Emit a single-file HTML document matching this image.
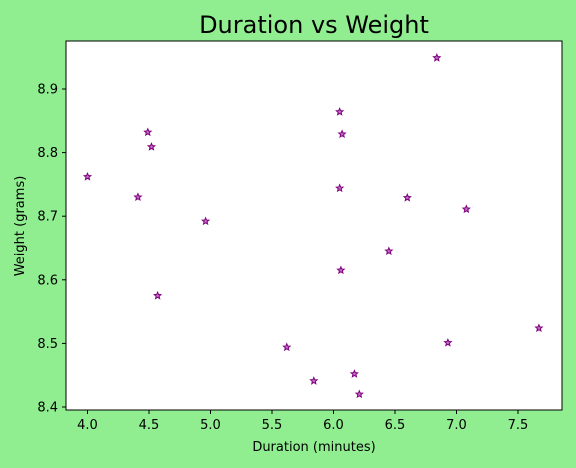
<!DOCTYPE html>
<html><head><meta charset="utf-8"><style>
body{margin:0;background:#90ee90;}
svg{display:block;font-family:"DejaVu Sans","Liberation Sans",sans-serif;}
</style></head><body>
<svg id="c" width="576" height="468">
<rect width="576" height="468" fill="#90ee90"/>
<text x="314" y="33" font-size="24" text-anchor="middle">Duration vs Weight</text>
<rect x="66" y="41" width="496" height="369" fill="#fff"/>
<g id="ticks"></g>
<g id="pts"></g>
<rect x="66" y="41" width="496" height="369" fill="none" stroke="#000" stroke-width="1"/>
<text x="314" y="451" font-size="13" text-anchor="middle">Duration (minutes)</text>
<text x="24" y="226" font-size="13" text-anchor="middle" transform="rotate(-90 24 226)">Weight (grams)</text>
</svg>
<script>
const durations=[4.00,4.41,4.49,4.52,4.57,4.96,5.62,5.84,6.05,6.07,6.05,6.06,6.17,6.21,6.45,6.60,6.84,6.93,7.08,7.67];
const weights=[8.762,8.730,8.832,8.809,8.575,8.692,8.494,8.441,8.864,8.829,8.744,8.615,8.452,8.420,8.645,8.729,8.949,8.501,8.711,8.524];
const xTicks=[4.0,4.5,5.0,5.5,6.0,6.5,7.0,7.5];
const yTicks=[8.4,8.5,8.6,8.7,8.8,8.9];
const ns="http://www.w3.org/2000/svg";
function sx(v){return 87.5+(v-4)*123;}
function sy(v){return 407-(v-8.4)*636;}
const tg=document.getElementById('ticks');
xTicks.forEach(t=>{
 const l=document.createElementNS(ns,'line');
 l.setAttribute('x1',sx(t));l.setAttribute('x2',sx(t));l.setAttribute('y1',410);l.setAttribute('y2',414);l.setAttribute('stroke','#000');
 
 
 tg.appendChild(l);
 const tx=document.createElementNS(ns,'text');
 tx.setAttribute('x',sx(t));tx.setAttribute('y',429);tx.setAttribute('font-size','13');tx.setAttribute('text-anchor','middle');
 tx.textContent=t.toFixed(1);
 
 
 tg.appendChild(tx);
});
yTicks.forEach(t=>{
 const l=document.createElementNS(ns,'line');
 l.setAttribute('x1',62);l.setAttribute('x2',66);l.setAttribute('y1',sy(t));l.setAttribute('y2',sy(t));l.setAttribute('stroke','#000');
 
 
 tg.appendChild(l);
 const tx=document.createElementNS(ns,'text');
 tx.setAttribute('x',58);tx.setAttribute('y',sy(t)+4.5);tx.setAttribute('font-size','13');tx.setAttribute('text-anchor','end');
 tx.textContent=t.toFixed(1);
 
 
 tg.appendChild(tx);
});
const pg=document.getElementById('pts');
function star(cx,cy,r){let p=[];for(let i=0;i<10;i++){const a=-Math.PI/2+i*Math.PI/5;const rr=i%2?r*0.45:r;p.push((cx+rr*Math.cos(a)).toFixed(2)+','+(cy+rr*Math.sin(a)).toFixed(2));}return p.join(' ');}
durations.forEach((d,i)=>{
 const s=document.createElementNS(ns,'polygon');
 s.setAttribute('points',star(sx(d),sy(weights[i]),3.5));
 s.setAttribute('fill','#c070c0');s.setAttribute('stroke','#800080');s.setAttribute('stroke-width','1');
 
 
 pg.appendChild(s);
});
</script>
</body></html>
